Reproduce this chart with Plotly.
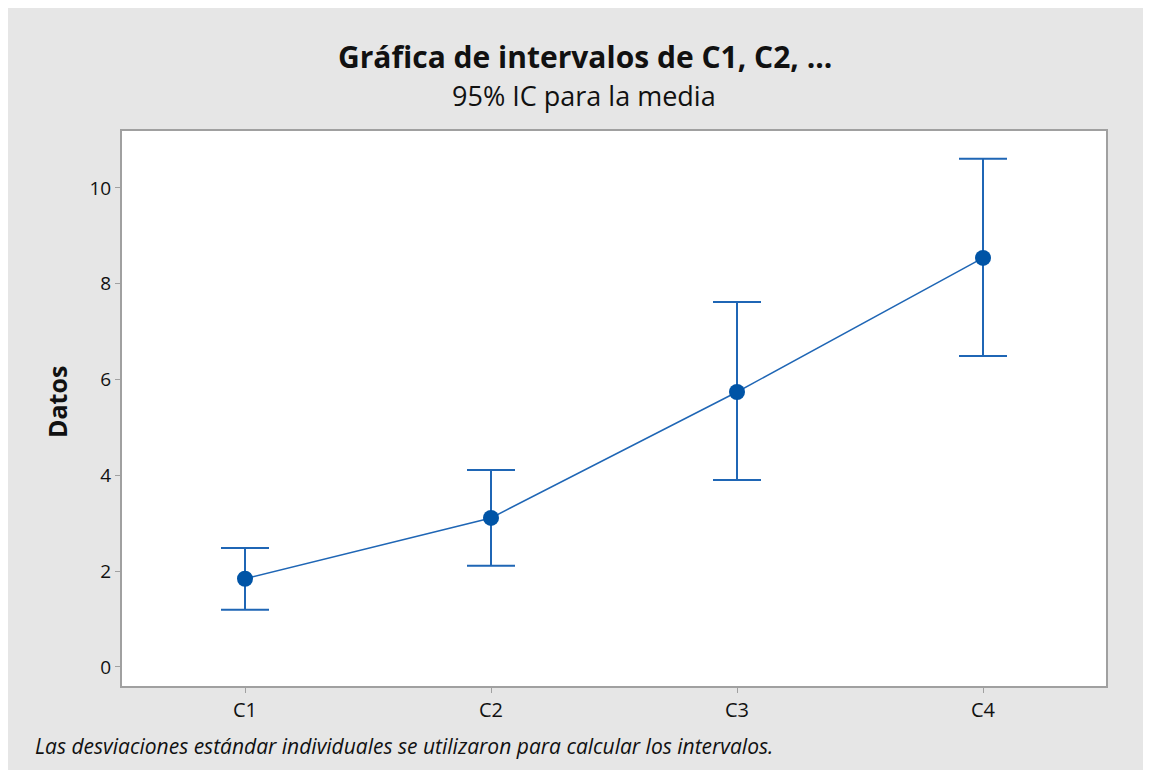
import plotly.graph_objects as go

categories = ["C1", "C2", "C3", "C4"]
means = [1.84, 3.11, 5.74, 8.54]
upper = [2.48, 4.11, 7.62, 10.61]
lower = [1.19, 2.11, 3.90, 6.49]
y_ticks = [0, 2, 4, 6, 8, 10]

x_pos = list(range(len(categories)))
err_plus = [u - m for u, m in zip(upper, means)]
err_minus = [m - l for m, l in zip(means, lower)]

FONT = "Open Sans, Noto Sans, sans-serif"
W, H = 1151, 770
L, R, T, B = 114, 53, 123, 92
pw = W - L - R
ph = H - T - B


def px_x(x):
    return (x - L) / pw


def px_y(y):
    return (H - B - y) / ph


fig = go.Figure()
fig.add_trace(go.Scatter(
    x=x_pos, y=means, mode="lines+markers",
    line=dict(color="#1f66b5", width=1.5),
    marker=dict(color="#0054a6", size=16),
    error_y=dict(type="data", symmetric=False, array=err_plus, arrayminus=err_minus,
                 color="#1f66b5", thickness=2, width=24),
    showlegend=False, hoverinfo="skip",
))

fig.update_layout(
    width=W, height=H,
    paper_bgcolor="#e6e6e6", plot_bgcolor="#ffffff",
    margin=dict(l=L, r=R, t=T, b=B),
    font=dict(family=FONT, color="#111"),
    annotations=[
        dict(text="<b>Gráfica de intervalos de C1, C2, ...</b>", x=px_x(577), y=px_y(48),
             xref="paper", yref="paper", showarrow=False, yanchor="middle",
             font=dict(size=30, family=FONT, color="#111")),
        dict(text="95% IC para la media", x=px_x(576), y=px_y(88),
             xref="paper", yref="paper", showarrow=False, yanchor="middle",
             font=dict(size=27, family=FONT, color="#111")),
        dict(text="<i>Las desviaciones estándar individuales se utilizaron para calcular los intervalos.</i>",
             x=px_x(25), y=px_y(738), xref="paper", yref="paper", showarrow=False,
             xanchor="left", yanchor="middle",
             font=dict(size=21, family=FONT, color="#111")),
        dict(text="<b>Datos</b>", x=px_x(49), y=px_y(394), xref="paper", yref="paper",
             showarrow=False, textangle=-90, xanchor="center", yanchor="middle",
             font=dict(size=25, family=FONT, color="#111")),
    ],
)

fig.update_xaxes(
    range=[-0.5, 3.5], tickvals=x_pos, ticktext=categories,
    showline=True, linecolor="#a0a0a0", linewidth=2, mirror=True,
    ticks="outside", ticklen=5, tickcolor="#a0a0a0", tickwidth=1,
    showgrid=False, zeroline=False,
    tickfont=dict(size=20, family=FONT, color="#111"),
)
fig.update_yaxes(
    range=[-0.4, 11.19], tickvals=y_ticks,
    showline=True, linecolor="#a0a0a0", linewidth=2, mirror=True,
    ticks="outside", ticklen=5, tickcolor="#a0a0a0", tickwidth=1,
    showgrid=False, zeroline=False,
    tickfont=dict(size=19, family=FONT, color="#111"),
)

fig.write_html("out.html")
